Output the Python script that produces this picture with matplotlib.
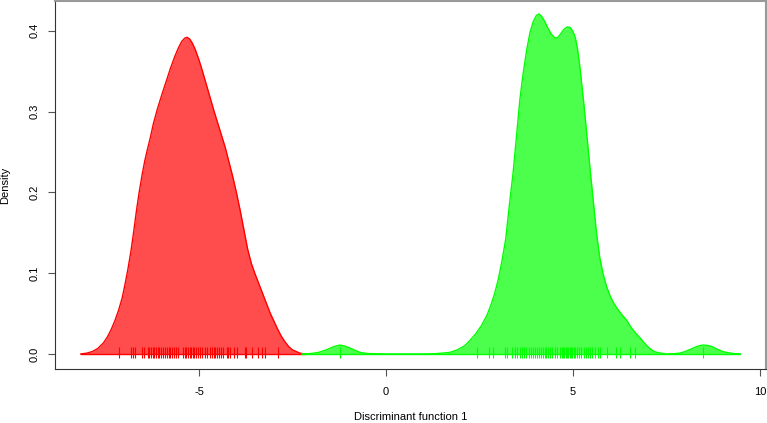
import numpy as np
import matplotlib.pyplot as plt

plt.rcParams['font.family'] = ['Liberation Sans', 'DejaVu Sans']
plt.rcParams['axes.unicode_minus'] = False

# density curve of group 1 (red)
red_x = [-8.16, -8.0, -7.85, -7.7, -7.55, -7.45, -7.35, -7.25, -7.15, -7.05, -6.97, -6.9,
         -6.82, -6.75, -6.67, -6.6, -6.52, -6.45, -6.38, -6.3, -6.22, -6.12, -6.0, -5.88,
         -5.76, -5.65, -5.55, -5.46, -5.38, -5.32, -5.25, -5.18, -5.1, -5.0, -4.9, -4.8,
         -4.7, -4.6, -4.5, -4.4, -4.3, -4.2, -4.1, -4.0, -3.9, -3.8, -3.7, -3.6, -3.5,
         -3.4, -3.3, -3.2, -3.1, -3.0, -2.9, -2.8, -2.7, -2.6, -2.5, -2.4, -2.3, -2.17]
red_y = [0.0, 0.001, 0.003, 0.007, 0.014, 0.021, 0.030, 0.041, 0.054, 0.070, 0.088, 0.105,
         0.127, 0.150, 0.178, 0.200, 0.222, 0.239, 0.253, 0.268, 0.285, 0.302, 0.320, 0.337,
         0.354, 0.368, 0.379, 0.387, 0.391, 0.392, 0.390, 0.385, 0.377, 0.364, 0.349, 0.333,
         0.317, 0.301, 0.286, 0.271, 0.256, 0.238, 0.220, 0.200, 0.178, 0.154, 0.130, 0.112,
         0.099, 0.087, 0.075, 0.063, 0.051, 0.041, 0.031, 0.022, 0.015, 0.009, 0.005, 0.003,
         0.001, 0.0]

# density curve of group 2 (green)
green_x = [-2.25, -2.0, -1.8, -1.6, -1.45, -1.33, -1.23, -1.12, -1.0, -0.85, -0.7, -0.5,
           0.0, 1.0, 1.3, 1.5, 1.71, 1.9, 2.1, 2.25, 2.4, 2.55, 2.7, 2.8, 2.9, 3.0, 3.1,
           3.2, 3.3, 3.4, 3.5, 3.58, 3.66, 3.76, 3.85, 3.94, 4.02, 4.09, 4.16, 4.24, 4.32,
           4.42, 4.52, 4.6, 4.68, 4.76, 4.85, 4.93, 5.0, 5.06, 5.12, 5.18, 5.24, 5.3, 5.38,
           5.45, 5.54, 5.63, 5.72, 5.81, 5.9, 6.0, 6.1, 6.2, 6.3, 6.43, 6.55, 6.67, 6.79,
           6.9, 7.0, 7.1, 7.2, 7.35, 7.5, 7.7, 7.85, 8.0, 8.15, 8.3, 8.4, 8.49, 8.6, 8.72,
           8.85, 9.0, 9.15, 9.3, 9.47]
green_y = [0.0, 0.0005, 0.002, 0.005, 0.008, 0.010, 0.011, 0.010, 0.008, 0.005, 0.002, 0.0005,
           0.0, 0.0, 0.0003, 0.001, 0.002, 0.005, 0.010, 0.017, 0.025, 0.035, 0.048, 0.060,
           0.074, 0.092, 0.115, 0.142, 0.185, 0.225, 0.275, 0.315, 0.345, 0.376, 0.398, 0.412,
           0.419, 0.421, 0.418, 0.412, 0.404, 0.396, 0.391, 0.392, 0.397, 0.402, 0.405, 0.404,
           0.399, 0.392, 0.378, 0.357, 0.331, 0.305, 0.266, 0.232, 0.190, 0.149, 0.118, 0.098,
           0.083, 0.071, 0.062, 0.055, 0.049, 0.042, 0.033, 0.026, 0.020, 0.014, 0.009, 0.005,
           0.0025, 0.001, 0.0, 0.0003, 0.001, 0.003, 0.006, 0.009, 0.0105, 0.011, 0.0105,
           0.009, 0.006, 0.003, 0.0015, 0.0005, 0.0]

# observations (rug)
red_rug = [-7.14, -6.82, -6.77, -6.72, -6.52, -6.48, -6.37, -6.33, -6.29, -6.24, -6.20,
           -6.15, -6.10, -6.06, -6.02, -5.97, -5.92, -5.86, -5.81, -5.77, -5.72, -5.67,
           -5.61, -5.56, -5.42, -5.38, -5.34, -5.29, -5.25, -5.21, -5.17, -5.13, -5.08,
           -5.02, -4.97, -4.91, -4.84, -4.79, -4.71, -4.66, -4.61, -4.57, -4.52, -4.47,
           -4.41, -4.36, -4.25, -4.22, -4.18, -4.06, -3.98, -3.77, -3.73, -3.57, -3.41,
           -3.32, -3.24, -2.88]
green_rug = [-1.23, 2.43, 2.76, 2.87, 3.17, 3.24, 3.37, 3.44, 3.51, 3.58, 3.64, 3.69, 3.74,
             3.82, 3.87, 3.92, 3.99, 4.05, 4.10, 4.15, 4.21, 4.26, 4.28, 4.34, 4.39, 4.45,
             4.52, 4.57, 4.64, 4.70, 4.73, 4.77, 4.80, 4.84, 4.87, 4.91, 4.95, 4.98, 5.02,
             5.05, 5.11, 5.16, 5.21, 5.29, 5.34, 5.39, 5.45, 5.50, 5.59, 5.68, 5.73, 5.91,
             6.16, 6.26, 6.52, 6.66, 8.48]

fig = plt.figure(figsize=(7.67, 4.23), dpi=100)
ax = fig.add_axes([0.0717, 0.1277, 0.927, 0.87])

ax.fill_between(red_x, red_y, 0, color=(1, 0, 0, 0.7), lw=0)
ax.plot(red_x, red_y, color='red', lw=1)
ax.plot([red_x[0], red_x[-1]], [0, 0], color='red', lw=1)
ax.vlines(red_rug, -0.005, 0.008, color='red', lw=0.8)

ax.fill_between(green_x, green_y, 0, color=(0, 1, 0, 0.7), lw=0)
ax.plot(green_x, green_y, color=(0, 1, 0), lw=1)
ax.plot([green_x[0], green_x[-1]], [0, 0], color=(0, 1, 0), lw=1)
ax.vlines(green_rug, -0.005, 0.008, color=(0, 1, 0), lw=0.8)

ax.set_xlim(-8.85, 10.16)
ax.set_ylim(-0.0186, 0.437)
ax.set_xticks([-5, 0, 5, 10])
ax.set_yticks([0.0, 0.1, 0.2, 0.3, 0.4])
ax.set_yticklabels(['0.0', '0.1', '0.2', '0.3', '0.4'], rotation=90, va='center')
ax.tick_params(labelsize=8, length=5, color='#555555', pad=6)
ax.tick_params(axis='x', pad=8)

for s in ['left', 'bottom']:
    ax.spines[s].set_color('#333333')
for s in ['top', 'right']:
    ax.spines[s].set_color('#999999')
    ax.spines[s].set_linewidth(1.5)

ax.set_xlabel('Discriminant function 1', fontsize=8, labelpad=11)
ax.set_ylabel('Density', fontsize=8, labelpad=14)

plt.savefig('out.png', dpi=100)
